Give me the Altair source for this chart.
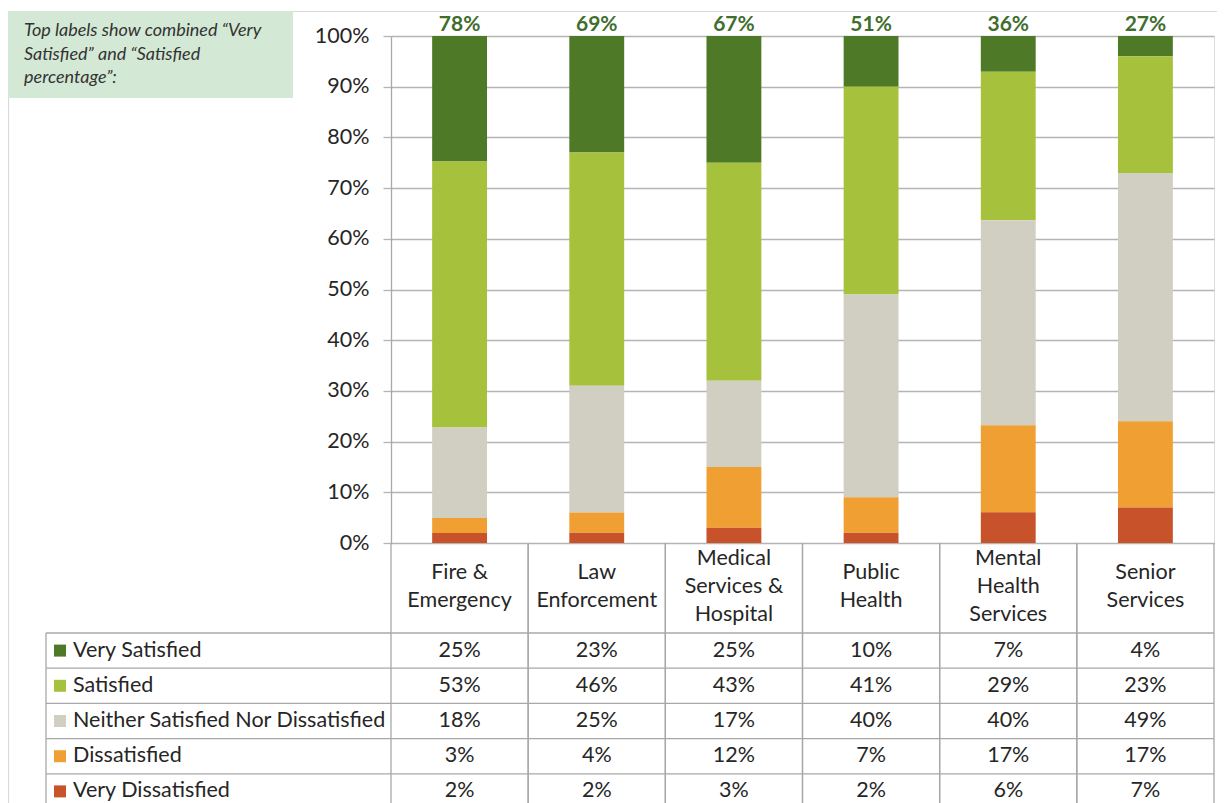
import altair as alt
import pandas as pd

# ---------------- data ----------------
categories = ["Fire &\nEmergency", "Law\nEnforcement", "Medical\nServices &\nHospital",
              "Public\nHealth", "Mental\nHealth\nServices", "Senior\nServices"]
levels = ["Very Satisfied", "Satisfied", "Neither Satisfied Nor Dissatisfied",
          "Dissatisfied", "Very Dissatisfied"]
very_satisfied = [25, 23, 25, 10, 7, 4]
satisfied = [53, 46, 43, 41, 29, 23]
neither = [18, 25, 17, 40, 40, 49]
dissatisfied = [3, 4, 12, 7, 17, 17]
very_dissatisfied = [2, 2, 3, 2, 6, 7]
combined = [78, 69, 67, 51, 36, 27]
level_colors = ["#4E7A28", "#A6C13B", "#D0CFC2", "#F0A032", "#C8532A"]
y_ticks = [0.0, 0.1, 0.2, 0.3, 0.4, 0.5, 0.6, 0.7, 0.8, 0.9, 1.0]
note_text = "Top labels show combined \u201cVery\nSatisfied\u201d and \u201cSatisfied\npercentage\u201d:"

# ---------------- layout / style ----------------
W, H = 823, 507
PAD = {"left": 383, "top": 28, "right": 3, "bottom": 260}
ROW_TOP, ROW_BOTTOM = 597, 773
HEADER_MID = 551
LINE_H = 28
TABLE_LEFT, TABLE_BOTTOM = -345, 800
LABEL_X, KEY_X = -318, -331
FONT = "Lato"
FS = 21.5
TXT = "#262626"
GRID = "#B4B4B4"
LINE = "#A8A8A8"
BORDER = "#D9D9D9"

series = [very_satisfied, satisfied, neither, dissatisfied, very_dissatisfied]
rows = []
for li, (lvl, vals) in enumerate(zip(levels, series)):
    for ci, cat in enumerate(categories):
        rows.append({"category": cat, "level": lvl, "value": vals[ci],
                     "stack": len(levels) - 1 - li, "label": f"{vals[ci]}%"})
df = pd.DataFrame(rows)
cat_df = pd.DataFrame({"category": categories,
                       "combined": [f"{v}%" for v in combined],
                       "top": [1.0] * len(categories),
                       "nlines": [c.count("\n") + 1 for c in categories]})
lvl_df = pd.DataFrame({"level": levels})
one = pd.DataFrame({"note": [note_text]})


def xenc(band_pos=None):
    kw = {}
    if band_pos is not None:
        kw["bandPosition"] = band_pos
    return alt.X("category:N", scale=alt.Scale(domain=categories, paddingInner=0, paddingOuter=0),
                 axis=None, **kw)


def yrow(band_pos=None):
    kw = {}
    if band_pos is not None:
        kw["bandPosition"] = band_pos
    return alt.Y("level:N", scale=alt.Scale(type="band", domain=levels, range=[ROW_TOP, ROW_BOTTOM],
                                            paddingInner=0, paddingOuter=0), axis=None, **kw)


color = alt.Color("level:N", scale=alt.Scale(domain=levels, range=level_colors), legend=None)

# chart-area border
border_top = alt.Chart(one).mark_rule(color=BORDER, strokeWidth=1.2).encode(
    x=alt.value(-PAD["left"]), x2=alt.value(W + 20), y=alt.value(-24.5))
border_left = alt.Chart(one).mark_rule(color=BORDER, strokeWidth=1.2).encode(
    x=alt.value(-PAD["left"] + 0.5), y=alt.value(-24.5), y2=alt.value(TABLE_BOTTOM))

# note box
note_box = alt.Chart(one).mark_rect(color="#D3E9D5").encode(
    x=alt.value(-PAD["left"]), x2=alt.value(-98), y=alt.value(-25), y2=alt.value(62))
note = alt.Chart(one).mark_text(font=FONT, fontSize=18, fontStyle="italic", color="#333333",
                                align="left", baseline="middle", lineBreak="\n",
                                lineHeight=23.5).encode(
    x=alt.value(-367), y=alt.value(-5), text="note:N")

bars = alt.Chart(df).mark_bar(width=alt.RelativeBandSize(0.4)).encode(
    x=xenc(),
    y=alt.Y("value:Q", stack="normalize", scale=alt.Scale(domain=[0, 1]),
            axis=alt.Axis(values=y_ticks, format=".0%", title=None, grid=True, gridColor=GRID,
                          gridWidth=1.3, tickSize=8, tickColor=GRID, tickWidth=1.3,
                          domainColor=LINE, domainWidth=1.3, labelFont=FONT, labelFontSize=FS,
                          labelColor=TXT, labelPadding=14)),
    color=color,
    order=alt.Order("stack:Q", sort="ascending"),
)

top_labels = alt.Chart(cat_df).mark_text(font=FONT, fontSize=21, fontWeight="bold",
                                         color="#3F6E2E", baseline="middle", dy=-11).encode(
    x=xenc(), y=alt.Y("top:Q", scale=alt.Scale(domain=[0, 1]), axis=None), text="combined:N")

hlines = alt.Chart(lvl_df).mark_rule(color=LINE, strokeWidth=1.3).encode(
    y=yrow(0), x=alt.value(TABLE_LEFT), x2=alt.value(W))
vlines_l = alt.Chart(cat_df).mark_rule(color=LINE, strokeWidth=1.3).encode(
    x=xenc(0), y=alt.value(H), y2=alt.value(TABLE_BOTTOM))
vlines_r = alt.Chart(cat_df).mark_rule(color=LINE, strokeWidth=1.3).encode(
    x=xenc(1), y=alt.value(H), y2=alt.value(TABLE_BOTTOM))
vline_table = alt.Chart(one).mark_rule(color=LINE, strokeWidth=1.3).encode(
    x=alt.value(TABLE_LEFT), y=alt.value(ROW_TOP), y2=alt.value(TABLE_BOTTOM))


def header_layer(n):
    # multi-line text block centred vertically in the header row
    return alt.Chart(cat_df).transform_filter(f"datum.nlines == {n}").mark_text(
        font=FONT, fontSize=FS, color=TXT, lineBreak="\n", lineHeight=LINE_H, baseline="middle"
    ).encode(x=xenc(), y=alt.value(HEADER_MID - (n - 1) * LINE_H / 2), text="category:N")


header2 = header_layer(2)
header3 = header_layer(3)

cells = alt.Chart(df).mark_text(font=FONT, fontSize=FS, color=TXT, baseline="middle").encode(
    x=xenc(), y=yrow(), text="label:N")

keys = alt.Chart(lvl_df).mark_square(size=144, opacity=1).encode(
    x=alt.value(KEY_X), y=yrow(), color=color)

row_labels = alt.Chart(lvl_df).mark_text(font=FONT, fontSize=FS, color=TXT, align="left",
                                         baseline="middle").encode(
    x=alt.value(LABEL_X), y=yrow(), text="level:N")

chart = alt.layer(
    border_top, border_left, note_box, note, bars, top_labels,
    hlines, vlines_l, vlines_r, vline_table, header2, header3, cells, keys, row_labels
).resolve_scale(y="independent").properties(
    width=W, height=H, padding=PAD, autosize=alt.AutoSizeParams(type="none")
).configure_view(strokeWidth=0).configure(background="white")

chart.save("out.html", embed_options={"renderer": "svg", "actions": False})
